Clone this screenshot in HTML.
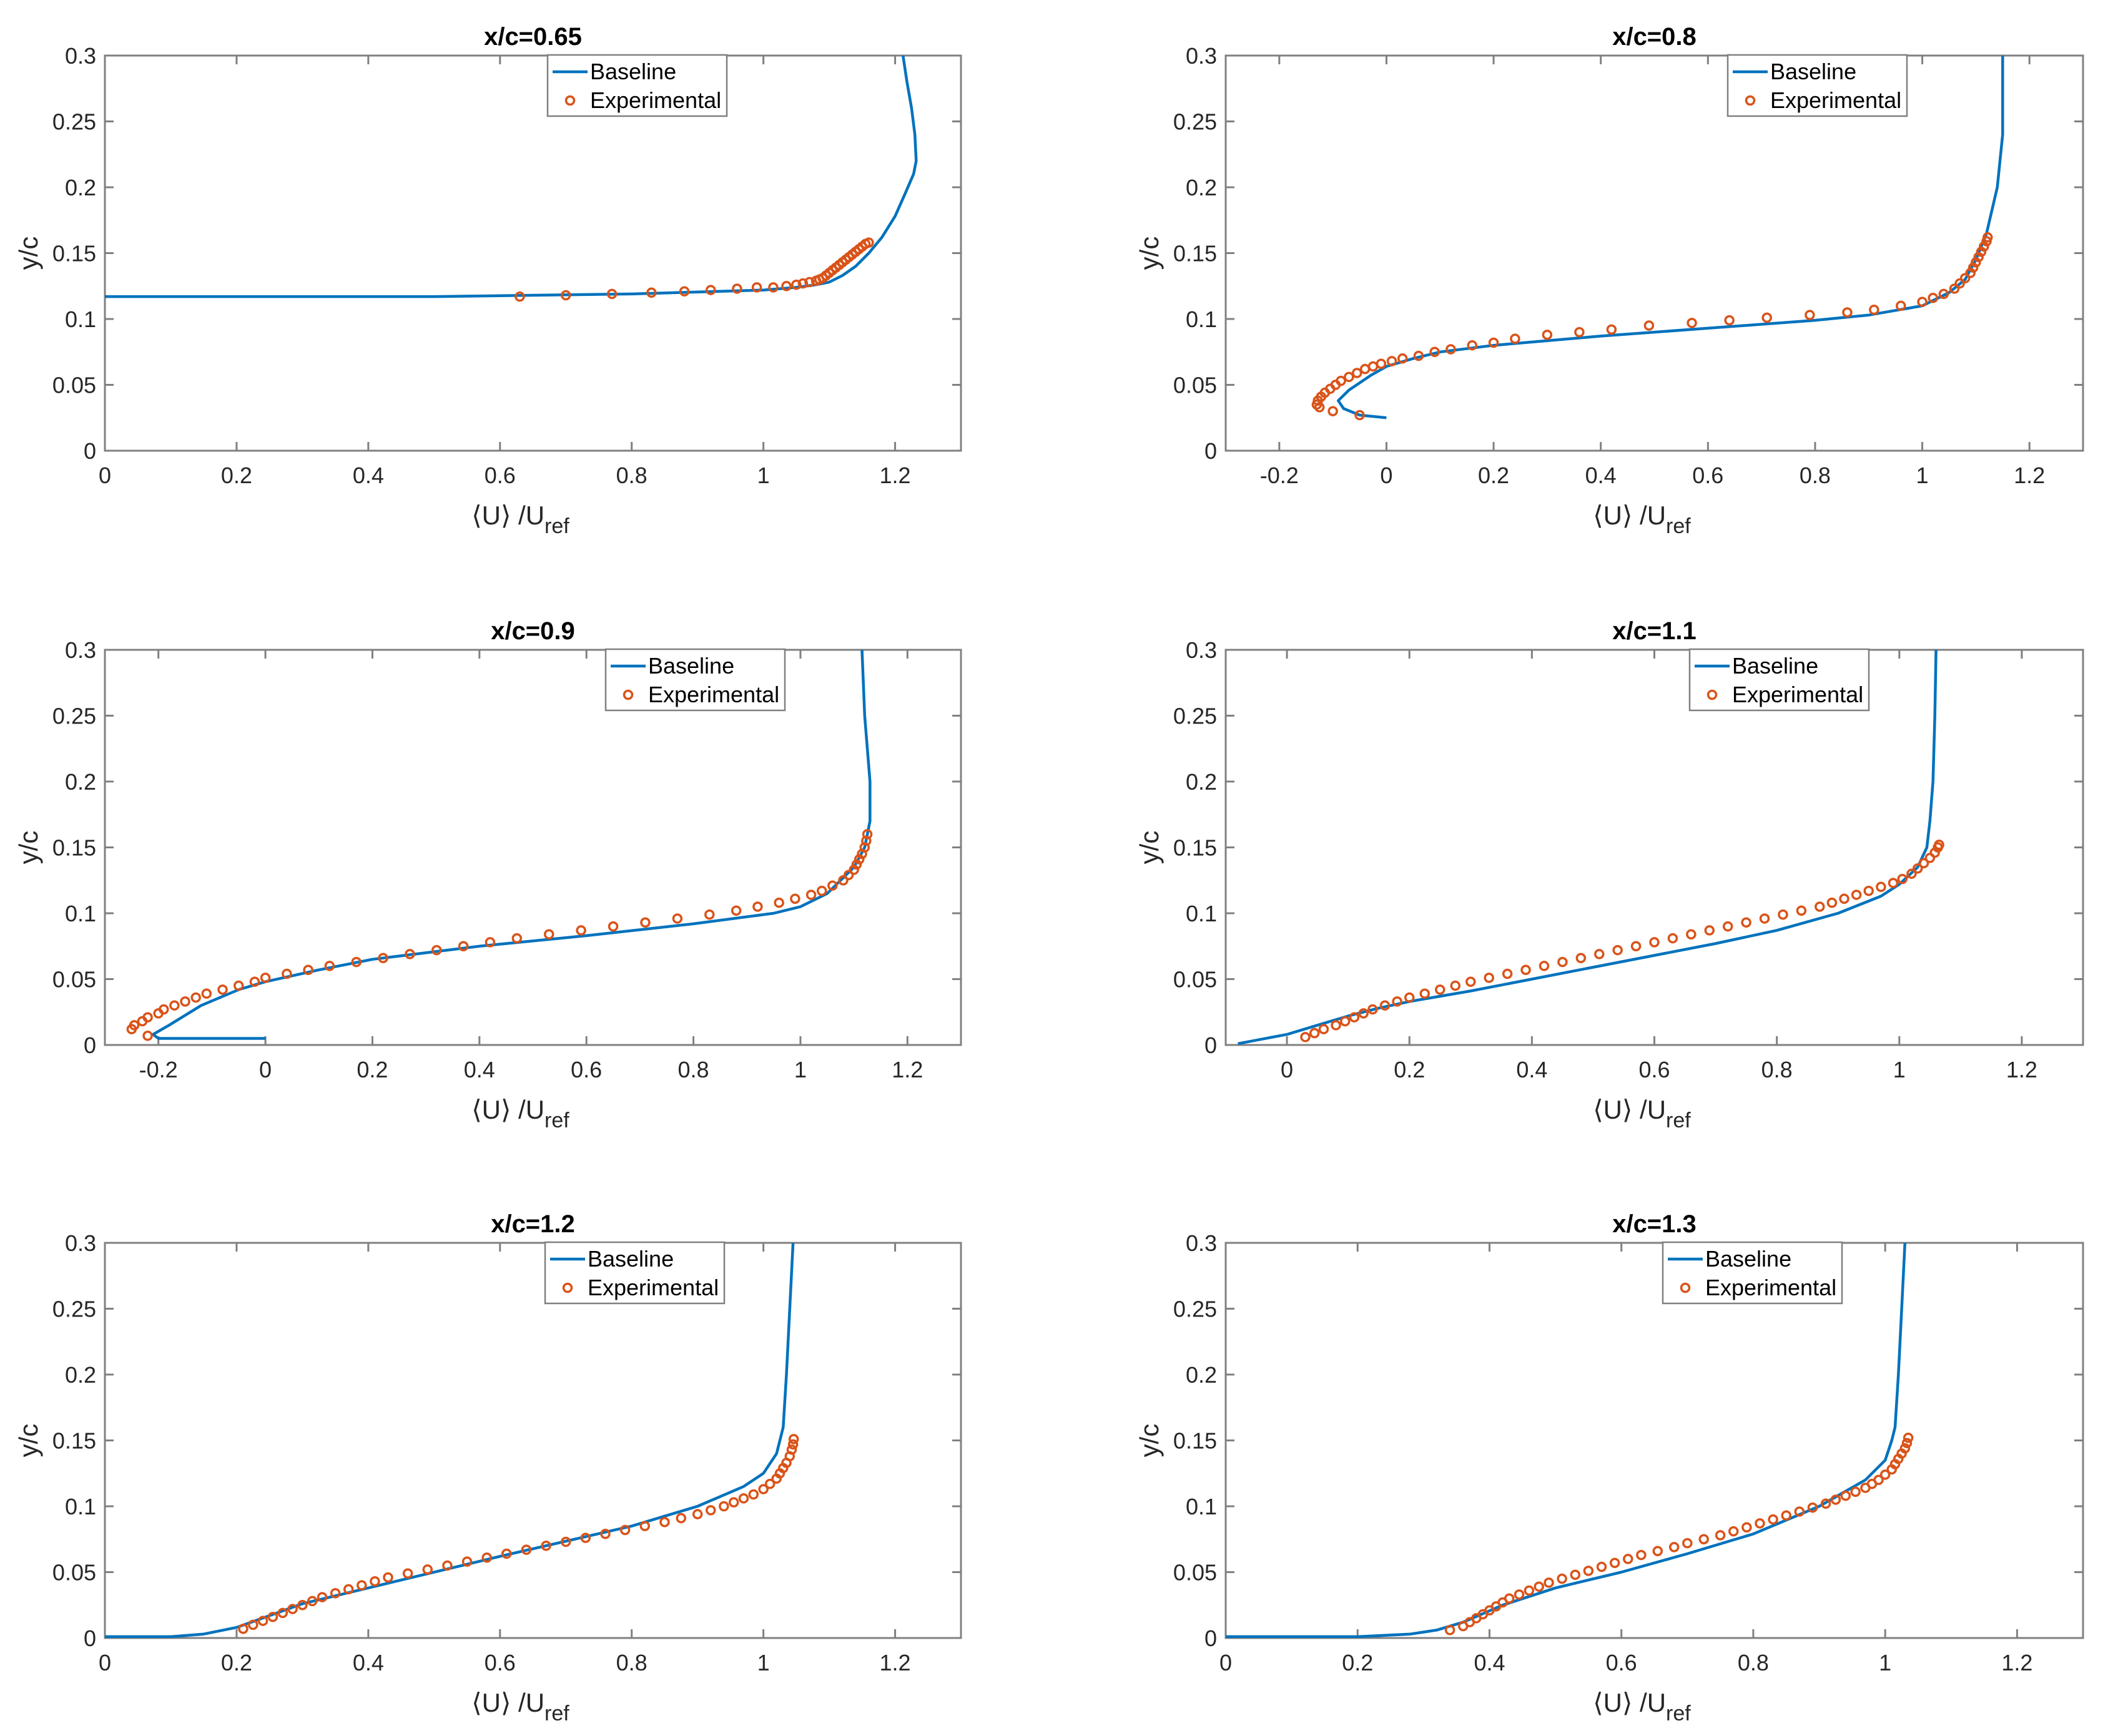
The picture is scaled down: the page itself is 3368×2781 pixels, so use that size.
<!DOCTYPE html>
<html><head><meta charset="utf-8"><style>
html,body{margin:0;padding:0;background:#fff;}
svg{display:block;font-family:"Liberation Sans",Arial,sans-serif;}
</style></head><body>
<svg id="fig" width="3368" height="2781" viewBox="0 0 3368 2781" xmlns="http://www.w3.org/2000/svg"></svg>
<script>
// ---- data ----
const titles = ["x/c=0.65","x/c=0.8","x/c=0.9","x/c=1.1","x/c=1.2","x/c=1.3"];
const xMins = [0,-0.3,-0.3,-0.1,0,0];
const xMax = 1.3;
const yTicks = [0,0.05,0.1,0.15,0.2,0.25,0.3];
const yTickLabels = ["0","0.05","0.1","0.15","0.2","0.25","0.3"];
const xTicksAll = [-0.2,0,0.2,0.4,0.6,0.8,1,1.2];
const xTickLabelsAll = ["-0.2","0","0.2","0.4","0.6","0.8","1","1.2"];

const base1 = [[0,0.117],[0.5,0.117],[0.8,0.119],[1.0,0.122],[1.05,0.124],[1.08,0.126],[1.10,0.128],[1.12,0.133],[1.14,0.14],[1.16,0.15],[1.18,0.162],[1.2,0.178],[1.215,0.195],[1.228,0.21],[1.232,0.22],[1.23,0.24],[1.225,0.26],[1.218,0.28],[1.212,0.3]];
const exp1 = [[0.63,0.117],[0.70,0.118],[0.77,0.119],[0.83,0.120],[0.88,0.121],[0.92,0.122],[0.96,0.123],[0.99,0.124],[1.015,0.124],[1.035,0.125],[1.05,0.126],[1.06,0.127],[1.07,0.128],[1.08,0.129],[1.085,0.130],[1.09,0.131],[1.095,0.133],[1.10,0.135],[1.105,0.137],[1.11,0.139],[1.115,0.141],[1.12,0.143],[1.125,0.145],[1.13,0.147],[1.135,0.149],[1.14,0.151],[1.145,0.153],[1.15,0.155],[1.155,0.157],[1.16,0.158]];
const base2 = [[0,0.025],[-0.05,0.027],[-0.08,0.032],[-0.09,0.038],[-0.07,0.046],[-0.03,0.057],[0,0.064],[0.05,0.070],[0.1,0.075],[0.2,0.080],[0.4,0.087],[0.6,0.093],[0.8,0.099],[0.9,0.103],[1.0,0.11],[1.05,0.12],[1.08,0.13],[1.1,0.145],[1.12,0.165],[1.14,0.2],[1.15,0.24],[1.15,0.3]];
const exp2 = [[-0.05,0.027],[-0.10,0.030],[-0.125,0.033],[-0.13,0.035],[-0.128,0.038],[-0.122,0.041],[-0.115,0.044],[-0.105,0.047],[-0.095,0.050],[-0.085,0.053],[-0.07,0.056],[-0.055,0.059],[-0.04,0.062],[-0.025,0.064],[-0.01,0.066],[0.01,0.068],[0.03,0.070],[0.06,0.072],[0.09,0.075],[0.12,0.077],[0.16,0.080],[0.20,0.082],[0.24,0.085],[0.30,0.088],[0.36,0.090],[0.42,0.092],[0.49,0.095],[0.57,0.097],[0.64,0.099],[0.71,0.101],[0.79,0.103],[0.86,0.105],[0.91,0.107],[0.96,0.110],[1.0,0.113],[1.02,0.116],[1.04,0.119],[1.06,0.123],[1.07,0.127],[1.08,0.131],[1.09,0.135],[1.095,0.139],[1.10,0.143],[1.105,0.147],[1.11,0.151],[1.115,0.155],[1.12,0.159],[1.122,0.162]];
const base3 = [[0,0.005],[-0.2,0.005],[-0.21,0.008],[-0.18,0.015],[-0.12,0.03],[-0.05,0.042],[0,0.048],[0.1,0.057],[0.2,0.065],[0.4,0.075],[0.6,0.083],[0.8,0.092],[0.95,0.1],[1.0,0.105],[1.05,0.115],[1.1,0.135],[1.12,0.15],[1.13,0.17],[1.13,0.2],[1.12,0.25],[1.115,0.3]];
const exp3 = [[-0.22,0.007],[-0.25,0.012],[-0.245,0.015],[-0.23,0.018],[-0.22,0.021],[-0.2,0.024],[-0.19,0.027],[-0.17,0.030],[-0.15,0.033],[-0.13,0.036],[-0.11,0.039],[-0.08,0.042],[-0.05,0.045],[-0.02,0.048],[0.0,0.051],[0.04,0.054],[0.08,0.057],[0.12,0.060],[0.17,0.063],[0.22,0.066],[0.27,0.069],[0.32,0.072],[0.37,0.075],[0.42,0.078],[0.47,0.081],[0.53,0.084],[0.59,0.087],[0.65,0.090],[0.71,0.093],[0.77,0.096],[0.83,0.099],[0.88,0.102],[0.92,0.105],[0.96,0.108],[0.99,0.111],[1.02,0.114],[1.04,0.117],[1.06,0.121],[1.08,0.125],[1.09,0.129],[1.10,0.133],[1.105,0.137],[1.11,0.141],[1.115,0.145],[1.12,0.150],[1.123,0.155],[1.125,0.160]];
const base4 = [[-0.08,0.001],[0,0.008],[0.05,0.015],[0.1,0.022],[0.15,0.028],[0.2,0.033],[0.3,0.041],[0.4,0.05],[0.5,0.059],[0.6,0.068],[0.7,0.077],[0.8,0.087],[0.9,0.1],[0.97,0.113],[1.0,0.122],[1.03,0.135],[1.045,0.15],[1.05,0.17],[1.055,0.2],[1.058,0.25],[1.06,0.3]];
const exp4 = [[0.03,0.006],[0.045,0.009],[0.06,0.012],[0.08,0.015],[0.095,0.018],[0.11,0.021],[0.125,0.024],[0.14,0.027],[0.16,0.030],[0.18,0.033],[0.20,0.036],[0.225,0.039],[0.25,0.042],[0.275,0.045],[0.30,0.048],[0.33,0.051],[0.36,0.054],[0.39,0.057],[0.42,0.060],[0.45,0.063],[0.48,0.066],[0.51,0.069],[0.54,0.072],[0.57,0.075],[0.60,0.078],[0.63,0.081],[0.66,0.084],[0.69,0.087],[0.72,0.090],[0.75,0.093],[0.78,0.096],[0.81,0.099],[0.84,0.102],[0.87,0.105],[0.89,0.108],[0.91,0.111],[0.93,0.114],[0.95,0.117],[0.97,0.120],[0.99,0.123],[1.005,0.126],[1.02,0.130],[1.03,0.134],[1.04,0.138],[1.05,0.142],[1.058,0.146],[1.063,0.150],[1.065,0.152]];
const base5 = [[0,0.001],[0.1,0.001],[0.15,0.003],[0.2,0.008],[0.25,0.017],[0.3,0.026],[0.4,0.038],[0.6,0.062],[0.8,0.085],[0.9,0.1],[0.97,0.115],[1.0,0.125],[1.02,0.14],[1.03,0.16],[1.035,0.2],[1.04,0.25],[1.045,0.3]];
const exp5 = [[0.21,0.007],[0.225,0.010],[0.24,0.013],[0.255,0.016],[0.27,0.019],[0.285,0.022],[0.30,0.025],[0.315,0.028],[0.33,0.031],[0.35,0.034],[0.37,0.037],[0.39,0.040],[0.41,0.043],[0.43,0.046],[0.46,0.049],[0.49,0.052],[0.52,0.055],[0.55,0.058],[0.58,0.061],[0.61,0.064],[0.64,0.067],[0.67,0.070],[0.70,0.073],[0.73,0.076],[0.76,0.079],[0.79,0.082],[0.82,0.085],[0.85,0.088],[0.875,0.091],[0.90,0.094],[0.92,0.097],[0.94,0.100],[0.955,0.103],[0.97,0.106],[0.985,0.109],[1.0,0.113],[1.01,0.117],[1.02,0.121],[1.025,0.125],[1.03,0.129],[1.035,0.133],[1.04,0.138],[1.043,0.143],[1.045,0.147],[1.046,0.151]];
const base6 = [[0,0.001],[0.2,0.001],[0.28,0.003],[0.32,0.006],[0.36,0.012],[0.42,0.025],[0.5,0.038],[0.6,0.050],[0.7,0.064],[0.8,0.079],[0.9,0.1],[0.97,0.12],[1.0,0.135],[1.01,0.15],[1.015,0.16],[1.02,0.2],[1.025,0.25],[1.03,0.3]];
const exp6 = [[0.34,0.006],[0.36,0.009],[0.37,0.012],[0.38,0.015],[0.39,0.018],[0.40,0.021],[0.41,0.024],[0.42,0.027],[0.43,0.030],[0.445,0.033],[0.46,0.036],[0.475,0.039],[0.49,0.042],[0.51,0.045],[0.53,0.048],[0.55,0.051],[0.57,0.054],[0.59,0.057],[0.61,0.060],[0.63,0.063],[0.655,0.066],[0.68,0.069],[0.70,0.072],[0.725,0.075],[0.75,0.078],[0.77,0.081],[0.79,0.084],[0.81,0.087],[0.83,0.090],[0.85,0.093],[0.87,0.096],[0.89,0.099],[0.91,0.102],[0.925,0.105],[0.94,0.108],[0.955,0.111],[0.97,0.114],[0.98,0.117],[0.99,0.120],[1.0,0.124],[1.01,0.128],[1.015,0.132],[1.02,0.136],[1.025,0.140],[1.03,0.144],[1.033,0.148],[1.035,0.152]];
const baselines = [base1,base2,base3,base4,base5,base6];
const experiments = [exp1,exp2,exp3,exp4,exp5,exp6];

// ---- layout ----
const colL = [168,1963], colR = [1539,3336];
const rowT = [89,1041,1991], rowB = [722,1674,2624];
const legX = [877,2767,970,2706,873,2663];
const NS = "http://www.w3.org/2000/svg";
const svg = document.getElementById('fig');
function mk(tag, attrs, parent){const e=document.createElementNS(NS,tag);for(const k in attrs)e.setAttribute(k,attrs[k]);(parent||svg).appendChild(e);return e;}

for(let p=0;p<6;p++){
  const c=p%2, r=Math.floor(p/2);
  const L=colL[c], R=colR[c], T=rowT[r], B=rowB[r];
  const x0=xMins[p];
  const sx=v=>L+(v-x0)/(xMax-x0)*(R-L);
  const sy=v=>B-(v/0.3)*(B-T);
  const g=mk('g',{});
  
  
  const box=mk('rect',{x:L,y:T,width:R-L,height:B-T,fill:'#fff',stroke:'#808080','stroke-width':3},g);
  
  
  yTicks.forEach((v,i)=>{
    const y=sy(v);
    mk('line',{x1:L,y1:y,x2:L+14,y2:y,stroke:'#808080','stroke-width':3},g);
    mk('line',{x1:R,y1:y,x2:R-14,y2:y,stroke:'#808080','stroke-width':3},g);
    const t=mk('text',{x:L-14,y:y+13,'text-anchor':'end','font-size':36,fill:'#262626'},g);
    t.textContent=yTickLabels[i];
    
    
  });
  xTicksAll.forEach((v,i)=>{
    if(v<x0-1e-9||v>xMax) return;
    const x=sx(v);
    mk('line',{x1:x,y1:B,x2:x,y2:B-14,stroke:'#808080','stroke-width':3},g);
    mk('line',{x1:x,y1:T,x2:x,y2:T+14,stroke:'#808080','stroke-width':3},g);
    const t=mk('text',{x:x,y:B+52,'text-anchor':'middle','font-size':36,fill:'#262626'},g);
    t.textContent=xTickLabelsAll[i];
    
    
  });
  const tt=mk('text',{x:(L+R)/2,y:T-17,'text-anchor':'middle','font-size':40,'font-weight':'bold',fill:'#000'},g);
  tt.textContent=titles[p];
  
  
  const yl=mk('text',{x:0,y:0,'text-anchor':'middle','font-size':42,fill:'#262626',transform:`translate(${L-108},${(T+B)/2}) rotate(-90)`},g);
  yl.textContent='y/c';
  
  
  const xl=mk('text',{x:(L+R)/2-20,y:B+118,'text-anchor':'middle','font-size':42,fill:'#262626'},g);
  
  
  xl.appendChild(document.createTextNode('\u27E8U\u27E9 /U'));
  const sub=document.createElementNS(NS,'tspan');sub.setAttribute('font-size','34');sub.setAttribute('dy','14');sub.textContent='ref';xl.appendChild(sub);
  const cid='clip'+p;
  const cp=mk('clipPath',{id:cid},g);mk('rect',{x:L,y:T,width:R-L,height:B-T},cp);
  const pts=baselines[p].map(d=>sx(d[0]).toFixed(1)+','+sy(d[1]).toFixed(1)).join(' ');
  const pl=mk('polyline',{points:pts,fill:'none',stroke:'#0072BD','stroke-width':4.5,'stroke-linejoin':'round','clip-path':`url(#${cid})`},g);
  
  
  experiments[p].forEach(d=>{
    const ci=mk('circle',{cx:sx(d[0]),cy:sy(d[1]),r:6.5,fill:'none',stroke:'#D95319','stroke-width':3.5},g);
    
    
  });
  const lx=legX[p], ly=T-1;
  const lg=mk('g',{},g);
  
  
  mk('rect',{x:lx,y:ly,width:287,height:98,fill:'#fff',stroke:'#808080','stroke-width':2.5},lg);
  mk('line',{x1:lx+8,y1:ly+27,x2:lx+64,y2:ly+27,stroke:'#0072BD','stroke-width':4.5},lg);
  const t1=mk('text',{x:lx+68,y:ly+39,'font-size':36,fill:'#000'},lg);t1.textContent='Baseline';
  
  
  mk('circle',{cx:lx+36,cy:ly+73,r:6.5,fill:'none',stroke:'#D95319','stroke-width':3.5},lg);
  const t2=mk('text',{x:lx+68,y:ly+85,'font-size':36,fill:'#000'},lg);t2.textContent='Experimental';
  
  
}
</script>
</body></html>
